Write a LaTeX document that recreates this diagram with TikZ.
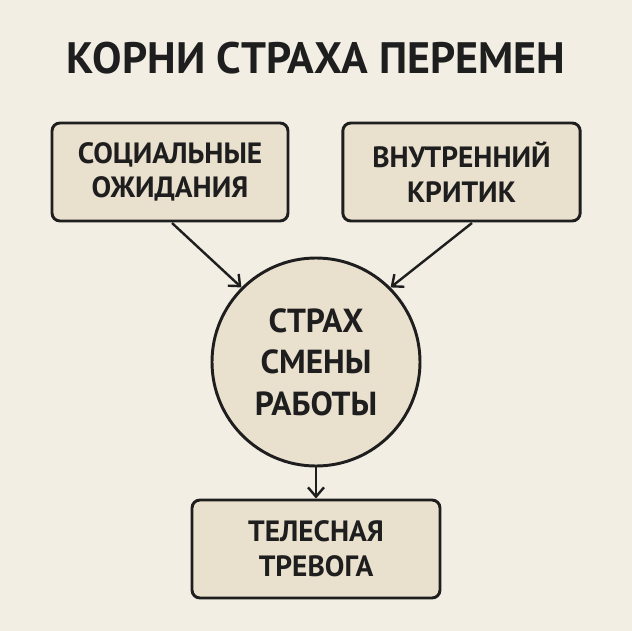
\documentclass[tikz,border=0pt]{standalone}
\usepackage{fontspec}
\setmainfont{PT Sans}
\usetikzlibrary{arrows.meta}
\definecolor{bg}{HTML}{F3EEE4}
\definecolor{fillc}{HTML}{E9E0CE}
\definecolor{ink}{HTML}{1E1E1E}
\begin{document}
\begin{tikzpicture}[x=0.75pt,y=-0.75pt,
  box/.style={draw=ink,line width=2.2pt,fill=fillc,rounded corners=6pt,align=center,font=\bfseries\fontsize{22}{26}\selectfont,text=ink},
  arr/.style={draw=ink,line width=1.8pt,-{Straight Barb[length=7pt,width=12pt,line width=1.8pt]}}]
\fill[bg] (0,0) rectangle (632,631);
\node[font=\bfseries\fontsize{33}{36}\selectfont,text=ink] (title) at (316,58) {КОРНИ СТРАХА ПЕРЕМЕН};
\node[box,minimum width=177pt,minimum height=73.5pt] (soc) at (170,172) {СОЦИАЛЬНЫЕ\\ОЖИДАНИЯ};
\node[box,minimum width=178pt,minimum height=73.5pt] (crit) at (461.5,172) {ВНУТРЕННИЙ\\КРИТИК};
\node[draw=ink,line width=2.2pt,fill=fillc,circle,minimum size=156pt,align=center,font=\bfseries\fontsize{25}{31}\selectfont,text=ink] (fear) at (316,362) {СТРАХ\\СМЕНЫ\\РАБОТЫ};
\node[box,minimum width=186pt,minimum height=73.5pt] (body) at (316,549) {ТЕЛЕСНАЯ\\ТРЕВОГА};
\draw[arr] (172,223) -- (fear.135);
\draw[arr] (472,223) -- (fear.45);
\draw[arr] (fear.south) -- (body.north);
\end{tikzpicture}
\end{document}
